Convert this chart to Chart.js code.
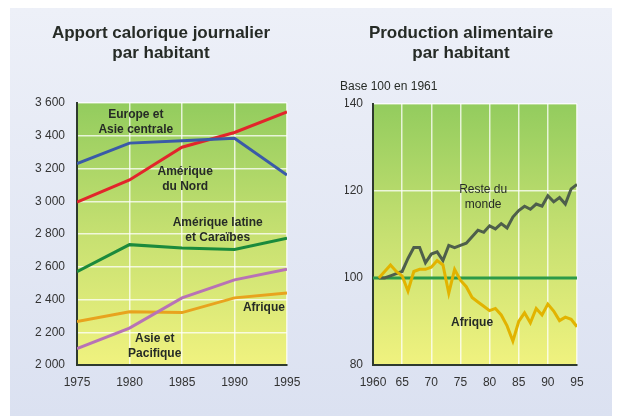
<!DOCTYPE html>
<html>
<head>
<meta charset="utf-8">
<script src="https://cdn.jsdelivr.net/npm/chart.js@4.4.0/dist/chart.umd.min.js"></script>
<style>
    body { margin: 0; background: #fff; width: 619px; height: 416px; overflow: hidden; position: relative; }
    #panel { position: absolute; left: 10px; top: 8px; width: 602px; height: 408px; background: linear-gradient(#edf0f8, #dbe1f1); }
    canvas { position: absolute; top: 0; }
    #cal { left: 0; }
    #prod { left: 302px; }
</style>
</head>
<body>
<div id="panel">
    <canvas id="cal" width="302" height="408"></canvas>
    <canvas id="prod" width="298" height="408"></canvas>
</div>
<script>
// Apport calorique journalier (kcal / habitant)
const calYears = [1975, 1980, 1985, 1990, 1995];
const europeAsie = [3230, 3355, 3370, 3385, 3160];
const ameriqueNord = [2995, 3130, 3330, 3420, 3545];
const ameriqueLatine = [2570, 2735, 2715, 2705, 2775];
const asiePacifique = [2100, 2225, 2410, 2520, 2585];
const afriqueCal = [2265, 2325, 2320, 2410, 2440];
const calTicks = [2000, 2200, 2400, 2600, 2800, 3000, 3200, 3400, 3600];

// Production alimentaire par habitant (base 100 en 1961)
const prodYears = [1961, 1962, 1963, 1964, 1965, 1966, 1967, 1968, 1969, 1970,
    1971, 1972, 1973, 1974, 1975, 1976, 1977, 1978, 1979, 1980,
    1981, 1982, 1983, 1984, 1985, 1986, 1987, 1988, 1989, 1990,
    1991, 1992, 1993, 1994, 1995];
const resteMonde = [100, 100, 100.5, 101, 101.5, 104.5, 107, 107, 103.5, 105.5,
    106, 104, 107.5, 107, 107.5, 108, 109.5, 111, 110.5, 112,
    111.3, 112.5, 111.5, 114, 115.5, 116.5, 115.8, 117, 116.5, 118.9,
    117.5, 118.5, 117, 120.5, 121.5];
const afriqueProd = [100, 101.5, 103, 101.5, 100.5, 97, 101.5, 102, 102, 102.5,
    104, 103, 96.5, 102, 99.5, 98, 95.5, 94.5, 93.5, 92.5,
    93, 91.5, 89, 85.5, 90, 92, 89.7, 93, 91.5, 94,
    92.4, 90.2, 91, 90.5, 88.8];
const baseYears = [1960, 1995];
const baseValues = [100, 100];
const prodXTicks = [1960, 1965, 1970, 1975, 1980, 1985, 1990, 1995];
const prodXLabels = ['1960', '65', '70', '75', '80', '85', '90', '95'];
const prodYTicks = [80, 100, 120, 140];

const FONT = 'Liberation Sans, Arial, sans-serif';
const ink = '#262b26';
const axisColor = '#2e3a2e';
const gridColor = 'rgba(255, 255, 255, 0.75)';

function points(xs, ys) {
    return xs.map((x, i) => ({ x: x, y: ys[i] }));
}

function fmtThousands(v) {
    return String(v).replace(/\B(?=(\d{3})+(?!\d))/g, ' ');
}

function line(label, xs, ys, color) {
    return {
        label: label,
        data: points(xs, ys),
        borderColor: color,
        backgroundColor: color,
        borderWidth: 3,
        pointRadius: 0,
        tension: 0,
        fill: false
    };
}

// plot background + labels written inside the plot
function makeDecor(notes, caption) {
    return {
        id: 'decor',
        beforeDraw(chart) {
            const ctx = chart.ctx;
            const a = chart.chartArea;
            const g = ctx.createLinearGradient(0, a.top, 0, a.bottom);
            g.addColorStop(0, '#93cc5e');
            g.addColorStop(0.5, '#c6e071');
            g.addColorStop(1, '#f0f27f');
            ctx.save();
            ctx.fillStyle = g;
            ctx.fillRect(a.left, a.top, a.right - a.left, a.bottom - a.top);
            ctx.restore();
        },
        afterDatasetsDraw(chart) {
            const ctx = chart.ctx;
            const xs = chart.scales.x;
            const ys = chart.scales.y;
            ctx.save();
            ctx.fillStyle = ink;
            ctx.textAlign = 'center';
            ctx.textBaseline = 'middle';
            notes.forEach(n => {
                ctx.font = (n.bold ? 'bold ' : '') + '12px ' + FONT;
                const cx = xs.getPixelForValue(n.x);
                const cy = ys.getPixelForValue(n.y);
                const y0 = cy - (n.lines.length - 1) * 15 / 2;
                n.lines.forEach((t, i) => ctx.fillText(t, cx, y0 + i * 15));
            });
            if (caption) {
                ctx.font = '12px ' + FONT;
                ctx.textAlign = 'left';
                ctx.fillText(caption, chart.chartArea.left - 33, chart.chartArea.top - 17);
            }
            ctx.restore();
        }
    };
}

function titleOpts(lines, bottom) {
    return {
        display: true,
        text: lines,
        color: ink,
        font: { family: FONT, size: 17, weight: 'bold', lineHeight: '20px' },
        padding: { top: 15, bottom: bottom }
    };
}

const tickFont = { family: FONT, size: 12 };

new Chart(document.getElementById('cal'), {
    type: 'line',
    data: {
        datasets: [
            line('Europe et Asie centrale', calYears, europeAsie, '#3a5aa8'),
            line('Amérique du Nord', calYears, ameriqueNord, '#e2252b'),
            line('Amérique latine et Caraïbes', calYears, ameriqueLatine, '#1b8a3c'),
            line('Asie et Pacifique', calYears, asiePacifique, '#b872b6'),
            line('Afrique', calYears, afriqueCal, '#e8a31e')
        ]
    },
    options: {
        responsive: false,
        animation: false,
        layout: { padding: { left: 25, right: 25, bottom: 0, top: 0 } },
        plugins: {
            legend: { display: false },
            tooltip: { enabled: false },
            title: titleOpts(['Apport calorique journalier', 'par habitant'], 40)
        },
        scales: {
            x: {
                type: 'linear',
                min: 1975,
                max: 1995,
                afterBuildTicks: s => { s.ticks = calYears.map(v => ({ value: v })); },
                afterFit: s => { s.height = 51; },
                grid: { color: gridColor, lineWidth: 1.5, drawTicks: false },
                border: { color: axisColor, width: 2 },
                ticks: { color: '#333', font: tickFont, padding: 10, autoSkip: false, maxRotation: 0, callback: v => String(v) }
            },
            y: {
                min: 2000,
                max: 3600,
                afterBuildTicks: s => { s.ticks = calTicks.map(v => ({ value: v })); },
                afterFit: s => { s.width = 42; },
                grid: { color: gridColor, lineWidth: 1.5, drawTicks: false },
                border: { color: axisColor, width: 2 },
                ticks: { color: '#333', font: tickFont, padding: 12, callback: v => fmtThousands(v) }
            }
        }
    },
    plugins: [makeDecor([
        { lines: ['Europe et', 'Asie centrale'], x: 1980.6, y: 3481, bold: true },
        { lines: ['Amérique', 'du Nord'], x: 1985.3, y: 3133, bold: true },
        { lines: ['Amérique latine', 'et Caraïbes'], x: 1988.4, y: 2821, bold: true },
        { lines: ['Afrique'], x: 1992.8, y: 2348, bold: true },
        { lines: ['Asie et', 'Pacifique'], x: 1982.4, y: 2113, bold: true }
    ], null)]
});

new Chart(document.getElementById('prod'), {
    type: 'line',
    data: {
        datasets: [
            line('Afrique', prodYears, afriqueProd, '#e2b300'),
            line('Reste du monde', prodYears, resteMonde, '#4e5f4b'),
            line('Base 100', baseYears, baseValues, '#2d9a48')
        ]
    },
    options: {
        responsive: false,
        animation: false,
        layout: { padding: { left: 33, right: 33, bottom: 0, top: 0 } },
        plugins: {
            legend: { display: false },
            tooltip: { enabled: false },
            title: titleOpts(['Production alimentaire', 'par habitant'], 41)
        },
        scales: {
            x: {
                type: 'linear',
                min: 1960,
                max: 1995,
                afterBuildTicks: s => { s.ticks = prodXTicks.map(v => ({ value: v })); },
                afterFit: s => { s.height = 51; },
                grid: { color: gridColor, lineWidth: 1.5, drawTicks: false },
                border: { color: axisColor, width: 2 },
                ticks: { color: '#333', font: tickFont, padding: 10, autoSkip: false, maxRotation: 0, callback: (v, i) => prodXLabels[i] }
            },
            y: {
                min: 80,
                max: 140,
                afterBuildTicks: s => { s.ticks = prodYTicks.map(v => ({ value: v })); },
                afterFit: s => { s.width = 28; },
                grid: { color: gridColor, lineWidth: 1.5, drawTicks: false },
                border: { color: axisColor, width: 2 },
                ticks: { color: '#333', font: tickFont, padding: 10, callback: v => String(v) }
            }
        }
    },
    plugins: [makeDecor([
        { lines: ['Reste du', 'monde'], x: 1978.9, y: 118.5, bold: false },
        { lines: ['Afrique'], x: 1977, y: 89.7, bold: true }
    ], 'Base 100 en 1961')]
});
</script>
</body>
</html>
